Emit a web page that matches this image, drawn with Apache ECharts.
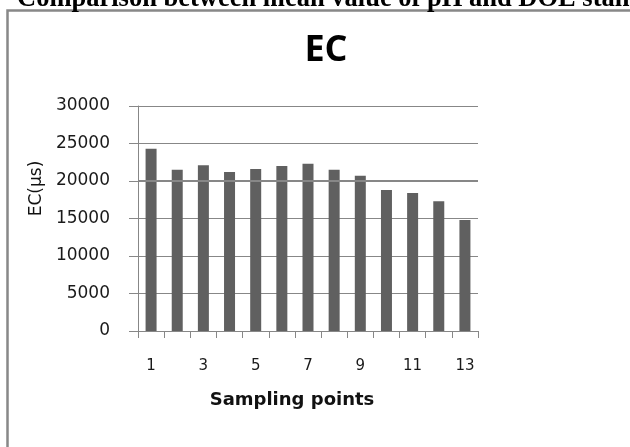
<!DOCTYPE html>
<html>
<head>
<meta charset="utf-8">
<script src="https://cdn.jsdelivr.net/npm/echarts@6/dist/echarts.min.js"></script>
<style>
html,body{margin:0;padding:0;background:#fff;}
#chart{width:630px;height:447px;}
</style>
</head>
<body>
<div id="chart"></div>
<script>
var categories = ['1','2','3','4','5','6','7','8','9','10','11','12','13'];
var ecValues = [24300, 21500, 22100, 21200, 21600, 22000, 22300, 21500, 20700, 18800, 18400, 17300, 14800];
var yTicks = [0, 5000, 10000, 15000, 20000, 25000, 30000];
var titleText = 'EC';
var xAxisName = 'Sampling points';
var yAxisName = 'EC(\u00b5s)';
var headerText = 'Comparison between mean value of pH and DOE standards';

var chart = echarts.init(document.getElementById('chart'), null, {renderer: 'canvas'});
var gray = '#878787';
chart.setOption({
  animation: false,
  backgroundColor: '#fff',
  title: {
    text: titleText,
    left: 321, top: 28,
    textAlign: 'center',
    textStyle: {fontFamily: 'Open Sans', fontWeight: 'bold', fontSize: 36, color: '#000'}
  },
  grid: {left: 138, right: 152, top: 106, bottom: 116, containLabel: false},
  xAxis: {
    type: 'category',
    data: categories,
    name: xAxisName,
    nameLocation: 'middle',
    nameGap: 60,
    nameTextStyle: {fontFamily: 'DejaVu Sans', fontWeight: 'bold', fontSize: 18, color: '#111', padding: [0, 32, 0, 0]},
    axisLine: {lineStyle: {color: gray, width: 1}},
    axisTick: {show: true, interval: 0, alignWithLabel: false, length: 7, lineStyle: {color: gray}},
    axisLabel: {interval: 1, margin: 28, fontFamily: 'DejaVu Sans', fontSize: 15, color: '#1a1a1a'},
    splitLine: {show: false}
  },
  yAxis: {
    type: 'value',
    min: yTicks[0], max: yTicks[yTicks.length - 1], interval: yTicks[1] - yTicks[0],
    name: yAxisName,
    nameLocation: 'middle',
    nameGap: 92,
    nameTextStyle: {fontFamily: 'DejaVu Sans', fontSize: 17, color: '#111', padding: [0, 0, 0, 60]},
    axisLine: {show: true, lineStyle: {color: gray, width: 1}},
    axisTick: {show: true, length: 9, lineStyle: {color: gray}},
    axisLabel: {margin: 28, fontFamily: 'DejaVu Sans', fontSize: 17, color: '#1a1a1a',
      formatter: function (v) { return String(v); }},
    splitLine: {show: true, lineStyle: {color: gray, width: 1}}
  },
  series: [{
    type: 'bar',
    data: ecValues,
    barWidth: 11,
    itemStyle: {color: '#606060'},
    markLine: {
      silent: true, symbol: 'none', label: {show: false},
      lineStyle: {color: gray, width: 2, type: 'solid'},
      data: [{yAxis: 20000}]
    }
  }],
  graphic: [
    {
      type: 'polyline',
      shape: {points: [[7.5, 447], [7.5, 10.5], [630, 10.5]]},
      style: {stroke: '#888', lineWidth: 2.5, fill: null},
      silent: true
    },
    {
      type: 'text',
      x: 17, y: -14,
      style: {
        text: headerText,
        font: 'bold 26.5px "Liberation Serif"',
        fill: '#000',
        align: 'left',
        verticalAlign: 'top'
      },
      silent: true
    }
  ]
});
</script>
</body>
</html>
